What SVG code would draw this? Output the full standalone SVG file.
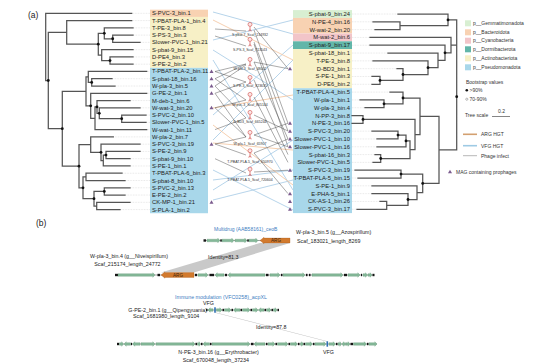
<svg xmlns="http://www.w3.org/2000/svg" xmlns:xlink="http://www.w3.org/1999/xlink" width="554" height="364" viewBox="0 0 554 364">
<style>
text{font-family:"Liberation Sans",Arial,sans-serif}
.lab{font-size:5.8px;fill:#222}
.tree{fill:none;stroke:#555;stroke-width:1.25;stroke-linecap:square}
.dot{fill:#111}
.lead{stroke:#cdcdcd;stroke-width:0.5;stroke-dasharray:0.8 0.8}
.ph{stroke:#444;stroke-width:0.45;fill:none}
.vfg{stroke:#a9cde6;stroke-width:1;fill:none;opacity:0.85}
.arg{stroke:#f3c7a2;stroke-width:1;fill:none;opacity:0.85}
.tri{fill:#7b5b8e}
.g{fill:#84b898;stroke:#5b9271;stroke-width:0.3}
.k{fill:#151515}
.plab{font-size:3.5px;fill:#333;text-anchor:middle}
.leg{font-size:5px;fill:#333}
.bl{font-size:5.3px;fill:#222}
</style>
<defs>
<g id="phage">
<circle cx="0" cy="-2.6" r="2" fill="#fbe6e6" stroke="#c9302c" stroke-width="0.5"/>
<line x1="0" y1="-0.6" x2="0" y2="2.6" stroke="#c9302c" stroke-width="0.6"/>
<path d="M-1.8,4 L0,2.6 L1.8,4 M-0.9,4.3 L0,2.6 L0.9,4.3" stroke="#c9302c" stroke-width="0.4" fill="none"/>
</g>
<path id="tri" d="M-2,1.5 L2,1.5 L0,-2 Z"/>
</defs>

<text x="28" y="18" font-size="8.5" fill="#222">(a)</text>
<text x="36" y="226" font-size="8.5" fill="#222">(b)</text>

<!-- label boxes -->
<g id="left-boxes">
<rect x="150" y="9.67" width="58" height="7.27" fill="#f8d2b2"/>
<rect x="150" y="16.94" width="58" height="50.89" fill="#f7f0c6"/>
<rect x="150" y="67.83" width="58" height="145.4" fill="#a8d7ea"/>
</g>
<g id="right-boxes">
<rect x="293" y="10.1" width="59" height="7.8" fill="#d8efd2"/>
<rect x="293" y="17.9" width="59" height="15.6" fill="#f8d2b2"/>
<rect x="293" y="33.5" width="59" height="7.8" fill="#f2c5c9"/>
<rect x="293" y="41.3" width="59" height="7.8" fill="#62b6a9"/>
<rect x="293" y="49.1" width="59" height="39.1" fill="#f7f0c6"/>
<rect x="293" y="88.2" width="59" height="124.9" fill="#a8d7ea"/>
</g>

<!-- leader dotted lines -->
<g id="leaders">
<path class="lead" d="M131.7,13.3H150M131.7,20.57H150M133,27.84H150M133,35.11H150M140,42.38H150M133,49.65H150M133,56.92H150M133,64.19H150M146.7,71.46H150M112,78.73H150M115,86H150M146.7,93.27H150M130,100.54H150M140,107.81H150M146,115.08H150M146,122.35H150M146.7,129.62H150M113.3,136.89H150M140,144.16H150M140,151.43H150M130,158.7H150M130,165.97H150M122,173.24H150M125,180.51H150M130,187.78H150M125,195.05H150M130,202.32H150M120,209.59H150"/>
<path class="lead" d="M352,14H398M352,21.81H373M352,29.62H375M352,37.43H370M352,45.24H370M352,53.05H388M352,60.86H373M352,68.67H397M352,76.48H372M352,84.29H372M352,92.1H390M352,99.91H360M352,107.72H365M352,131.15H372M352,138.96H377M352,146.77H377M352,154.58H375M352,162.39H373M352,170.2H355M352,178.01H358M352,185.82H372M352,193.63H372M352,201.44H380M352,209.25H357"/>
</g>

<!-- left tree -->
<g id="left-tree">
<path class="tree" d="M45.7,13.3V80.5M45.7,13.3H131.7M45.7,80.5H48.3
M48.3,32.4V128.7M48.3,32.4H66.7M48.3,128.7H62.3
M66.7,20.57V44.2M66.7,20.57H131.7M66.7,44.2H98.3
M98.3,33.3V55.1M98.3,33.3H104.3M98.3,55.1H101.7
M104.3,27.84V38.75M104.3,27.84H133M104.3,38.75H112.7
M112.7,35.11V42.38M112.7,35.11H133M112.7,42.38H140
M101.7,49.65V60.55M101.7,49.65H133M101.7,60.55H110
M110,56.92V64.19M110,56.92H133M110,64.19H133
M62.3,91.3V166.2M62.3,91.3H86M62.3,166.2H79
M86,76.9V105.8M86,76.9H88.3M86,105.8H90.7
M88.3,71.46V82.4M88.3,71.46H146.7M88.3,82.4H91.7
M91.7,78.73V86M91.7,78.73H112M91.7,86H115
M90.7,93.27V118.3M90.7,93.27H146.7M90.7,118.3H95
M95,106.9V129.62M95,106.9H97M95,129.62H146.7
M97,100.54V113.3M97,100.54H130M97,113.3H99.3
M99.3,107.81V118.7M99.3,107.81H140M99.3,118.7H121.7
M121.7,115.08V122.35M121.7,115.08H146M121.7,122.35H146
M79,144.6V187.8M79,144.6H90.7M79,187.8H83
M90.7,136.89V152.3M90.7,136.89H113.3M90.7,152.3H101
M101,144.16V160.5M101,144.16H140M101,160.5H103.3
M103.3,155.1V165.97M103.3,155.1H106M103.3,165.97H130
M106,151.43V158.7M106,151.43H140M106,158.7H130
M83,176.9V198.7M83,176.9H86M83,198.7H94
M86,173.24V180.51M86,173.24H122M86,180.51H125
M94,191.4V206M94,191.4H104.3M94,206H96.7
M104.3,187.78V195.05M104.3,187.78H130M104.3,195.05H125
M96.7,202.32V209.59M96.7,202.32H130M96.7,209.59H120"/>
<g class="dot">
<circle cx="48.3" cy="80.5" r="1.4"/><circle cx="62.3" cy="128.7" r="1.4"/><circle cx="98.3" cy="44.2" r="1.4"/><circle cx="104.3" cy="33.3" r="1.4"/><circle cx="112.7" cy="38.75" r="1.4"/><circle cx="110" cy="60.55" r="1.4"/><circle cx="91.7" cy="82.4" r="1.4"/><circle cx="90.7" cy="105.8" r="1.4"/><circle cx="97" cy="106.9" r="1.4"/><circle cx="99.3" cy="113.3" r="1.4"/><circle cx="121.7" cy="118.7" r="1.4"/><circle cx="79" cy="166.2" r="1.4"/><circle cx="101" cy="152.3" r="1.4"/><circle cx="106" cy="155.1" r="1.4"/><circle cx="83" cy="187.8" r="1.4"/><circle cx="94" cy="198.7" r="1.4"/><circle cx="104.3" cy="191.4" r="1.4"/>
</g>
</g>

<!-- right tree -->
<g id="right-tree">
<path class="tree" d="M456.7,19.9V149.9M448,19.9H456.7M451,45.1H456.7M439,149.9H456.7
M448,14V25.7M398,14H448M400,25.7H448
M400,21.81V29.62M373,21.81H400M375,29.62H400
M451,37.43V52.8M370,37.43H451M445,52.8H451
M445,45.24V60.4M370,45.24H445M438,60.4H445
M438,53.05V67.7M388,53.05H438M428,67.7H438
M428,60.86V74.5M373,60.86H428M403,74.5H428
M403,68.67V80.4M397,68.67H403M380,80.4H403
M380,76.48V84.29M372,76.48H380M372,84.29H380
M439,116.3V183.4M420,116.3H439M422.7,183.4H439
M420,98V134.6M403,98H420M415,134.6H420
M403,92.1V103.8M390,92.1H403M384,103.8H403
M384,99.91V107.72M360,99.91H384M365,107.72H384
M415,119.4V149.7M363,119.4H415M410,149.7H415
M363,115.53V123.34M352,115.53H363M352,123.34H363
M410,140.9V158.5M406,140.9H410M380.7,158.5H410
M406,135.1V146.77M398,135.1H406M377,146.77H406
M398,131.15V138.96M372,131.15H398M377,138.96H398
M380.7,154.58V162.39M375,154.58H380.7M373,162.39H380.7
M422.7,174.1V192.7M401,174.1H422.7M417,192.7H422.7
M401,170.2V178.01M355,170.2H401M358,178.01H401
M417,185.82V199.5M372,185.82H417M408,199.5H417
M408,193.63V205.3M372,193.63H408M386.7,205.3H408
M386.7,201.44V209.25M380,201.44H386.7M357,209.25H386.7"/>
<g class="dot">
<circle cx="448" cy="19.9" r="1.4"/><circle cx="445" cy="52.8" r="1.4"/><circle cx="428" cy="67.7" r="1.4"/><circle cx="403" cy="74.5" r="1.4"/><circle cx="380" cy="80.4" r="1.4"/><circle cx="403" cy="98" r="1.4"/><circle cx="384" cy="103.8" r="1.4"/><circle cx="363" cy="119.4" r="1.4"/><circle cx="398" cy="135.1" r="1.4"/><circle cx="406" cy="140.9" r="1.4"/><circle cx="380.7" cy="158.5" r="1.4"/><circle cx="401" cy="174.1" r="1.4"/><circle cx="422.7" cy="183.4" r="1.4"/><circle cx="408" cy="199.5" r="1.4"/><circle cx="456.7" cy="96.7" r="1.4"/>
</g>
</g>

<!-- left labels -->
<g id="left-labels" class="lab">
<text x="152" y="15.3">S-PVC-3_bin.1</text>
<text x="152" y="22.57">T-PBAT-PLA-1_bin.4</text>
<text x="152" y="29.84">T-PE-3_bin.8</text>
<text x="152" y="37.11">S-PS-3_bin.3</text>
<text x="152" y="44.38">Slower-PVC-1_bin.21</text>
<text x="152" y="51.65">S-pbat-9_bin.15</text>
<text x="152" y="58.92">D-PE4_bin.3</text>
<text x="152" y="66.19">S-PE-2_bin.2</text>
<text x="152" y="73.46">T-PBAT-PLA-2_bin.11</text>
<text x="152" y="80.73">S-pbat-18_bin.16</text>
<text x="152" y="88">W-pla-3_bin.5</text>
<text x="152" y="95.27">G-PE-2_bin.1</text>
<text x="152" y="102.54">M-deb-1_bin.6</text>
<text x="152" y="109.81">W-wat-3_bin.20</text>
<text x="152" y="117.08">S-PVC-2_bin.10</text>
<text x="152" y="124.35">Slower-PVC-1_bin.5</text>
<text x="152" y="131.62">W-wat-1_bin.11</text>
<text x="152" y="138.89">W-pla-2_bin.7</text>
<text x="152" y="146.16">S-PVC-3_bin.19</text>
<text x="152" y="153.43">S-PE-2_bin.9</text>
<text x="152" y="160.7">S-pbat-9_bin.10</text>
<text x="152" y="167.97">S-PE-1_bin.1</text>
<text x="152" y="175.24">T-PBAT-PLA-6_bin.3</text>
<text x="152" y="182.51">S-pbat-8_bin.10</text>
<text x="152" y="189.78">S-PVC-2_bin.13</text>
<text x="152" y="197.05">E-PE-2_bin.2</text>
<text x="152" y="204.32">CK-MP-1_bin.21</text>
<text x="152" y="211.59">S-PLA-1_bin.2</text>
</g>

<!-- right labels -->
<g id="right-labels" class="lab" text-anchor="end">
<text x="350" y="16">S-pbat-9_bin.24</text>
<text x="350" y="23.81">N-PE-4_bin.16</text>
<text x="350" y="31.62">W-wat-2_bin.20</text>
<text x="350" y="39.43">M-wat-2_bin.6</text>
<text x="350" y="47.24">S-pbat-9_bin.17</text>
<text x="350" y="55.05">S-pbat-18_bin.1</text>
<text x="350" y="62.86">T-PE-3_bin.8</text>
<text x="350" y="70.67">D-BD3_bin.1</text>
<text x="350" y="78.48">S-PE-1_bin.3</text>
<text x="350" y="86.29">D-PE6_bin.2</text>
<text x="350" y="94.1">T-PBAT-PLA-4_bin.5</text>
<text x="350" y="101.91">W-pla-1_bin.1</text>
<text x="350" y="109.72">W-pla-3_bin.4</text>
<text x="350" y="117.53">N-PP-3_bin.8</text>
<text x="350" y="125.34">N-PE-3_bin.16</text>
<text x="350" y="133.15">S-PVC-3_bin.20</text>
<text x="350" y="140.96">Slower-PVC-1_bin.10</text>
<text x="350" y="148.77">Slower-PVC-1_bin.16</text>
<text x="350" y="156.58">S-pbat-16_bin.3</text>
<text x="350" y="164.39">Slower-PVC-1_bin.5</text>
<text x="350" y="172.2">S-PVC-3_bin.19</text>
<text x="350" y="180.01">T-PBAT-PLA-5_bin.15</text>
<text x="350" y="187.82">S-PE-1_bin.9</text>
<text x="350" y="195.63">E-PHA-5_bin.1</text>
<text x="350" y="203.44">CK-AS-1_bin.26</text>
<text x="350" y="211.25">S-PVC-3_bin.17</text>
</g>

<!-- connectors -->
<g id="connectors">
<path class="vfg" d="M213,12L293,34M213,40L293,20M213,50L293,100M213,115L293,45M213,140L293,60M213,180L293,170M213,200L293,180M213,170L293,210M213,190L293,140M213,60L293,190"/>
<path class="arg" d="M213,20L293,60M213,108L293,95M213,143L293,150M213,125L293,185"/>
<path class="ph" d="M215,29L246,31M215,36L246,46M215,71.5L246,64M215,71.5L246,82M215,78.7L246,64M215,78.7L246,100M215,86L246,65M215,86L246,118M215,93.3L246,82M215,93.3L246,137M215,107.8L246,100M215,107.8L246,137M215,144L246,155M215,144L246,137M215,158.7L246,173M215,129.6L246,118
M254,27L288,68.7M254,30L288,123.3M254,42L288,131M254,44L288,146.8M254,62L288,139M254,62L288,68.7M254,80L288,154.6M254,97L288,162.4M254,115L288,131M254,135L288,123.3M254,135L288,146.8M254,153L288,139M254,172L288,170.2M254,153L288,193.6"/>
</g>

<!-- triangles: MAG containing prophages -->
<g id="prophage-marks" class="tri">
<use xlink:href="#tri" x="211.5" y="71.46"/><use xlink:href="#tri" x="211.5" y="78.73"/><use xlink:href="#tri" x="211.5" y="86"/><use xlink:href="#tri" x="211.5" y="93.27"/><use xlink:href="#tri" x="211.5" y="107.81"/><use xlink:href="#tri" x="211.5" y="144.16"/><use xlink:href="#tri" x="211.5" y="202.32"/>
<use xlink:href="#tri" x="290" y="68.67"/><use xlink:href="#tri" x="290" y="123.34"/><use xlink:href="#tri" x="290" y="131.15"/><use xlink:href="#tri" x="290" y="138.96"/><use xlink:href="#tri" x="290" y="146.77"/><use xlink:href="#tri" x="290" y="170.2"/><use xlink:href="#tri" x="290" y="193.63"/><use xlink:href="#tri" x="290" y="201.44"/><use xlink:href="#tri" x="290" y="209.25"/>
</g>

<!-- phages -->
<g id="phage1"><use xlink:href="#phage" x="250" y="27"/><text class="plab" x="250" y="35.5">S-pbat-7_Scaf_134932</text></g>
<g id="phage2"><use xlink:href="#phage" x="250" y="42"/><text class="plab" x="250" y="51">S-PS-3_Scaf_713543</text></g>
<g id="phage3"><use xlink:href="#phage" x="250" y="62"/><text class="plab" x="250" y="69.5">W-pla-3_Scaf_48002</text></g>
<g id="phage4"><use xlink:href="#phage" x="250" y="80"/><text class="plab" x="250" y="87.3">S-PE-3_Scaf_823635</text></g>
<g id="phage5"><use xlink:href="#phage" x="250" y="97"/><text class="plab" x="250" y="105.5">W-pvc-3_Scaf_865144</text></g>
<g id="phage6"><use xlink:href="#phage" x="250" y="115"/><text class="plab" x="250" y="123">D-BD3_Scaf_665244</text></g>
<g id="phage7"><use xlink:href="#phage" x="250" y="135"/><text class="plab" x="250" y="144.5">W-pla-1_Scaf_65907</text></g>
<g id="phage8"><use xlink:href="#phage" x="250" y="153.3"/><text class="plab" x="250" y="163">T-PBAT-PLA-5_Scaf_650970</text></g>
<g id="phage9"><use xlink:href="#phage" x="250" y="171.7"/><text class="plab" x="250" y="180.5">T-PBAT-PLA-5_Scaf_720604</text></g>

<!-- legend -->
<g id="legend">
<rect x="465" y="20.3" width="6" height="6" fill="#d8efd2"/>
<rect x="465" y="29.3" width="6" height="6" fill="#f8d2b2"/>
<rect x="465" y="37.7" width="6" height="6" fill="#f2c5c9"/>
<rect x="465" y="46.3" width="6" height="6" fill="#62b6a9"/>
<rect x="465" y="55.3" width="6" height="6" fill="#f7f0c6"/>
<rect x="465" y="64.3" width="6" height="6" fill="#a8d7ea"/>
<text class="leg" x="473" y="25">p__Gemmatimonadota</text>
<text class="leg" x="473" y="34">p__Bacteroidota</text>
<text class="leg" x="473" y="42.4">p__Cyanobacteria</text>
<text class="leg" x="473" y="51">p__Dormibacterota</text>
<text class="leg" x="473" y="60">p__Actinobacteriota</text>
<text class="leg" x="473" y="69">p__Pseudomonadota</text>
<text class="leg" x="466" y="83.5">Bootstrap values</text>
<circle cx="466.8" cy="90.2" r="1.3" fill="#111"/>
<text class="leg" x="469.5" y="92">&gt;90%</text>
<circle cx="466.8" cy="99.2" r="1.1" fill="#fff" stroke="#555" stroke-width="0.4"/>
<text class="leg" x="469.5" y="101">70-90%</text>
<text class="leg" x="465" y="117">Tree scale</text>
<text class="leg" x="498" y="113">0.2</text>
<path d="M492,116.5H510" stroke="#333" stroke-width="0.6"/>
<path d="M463,134.3H477" stroke="#d3a070" stroke-width="1.6"/>
<text class="leg" x="481" y="136">ARG HGT</text>
<path d="M463,145.7H477" stroke="#9ecae4" stroke-width="1.6"/>
<text class="leg" x="481" y="147.5">VFG HGT</text>
<path d="M463,155.7H477" stroke="#999" stroke-width="0.7"/>
<text class="leg" x="481" y="157.5">Phage infect</text>
<use xlink:href="#tri" x="450" y="171.7" class="tri"/>
<text class="leg" x="456" y="173.5">MAG containing prophages</text>
</g>

<!-- part b -->
<g id="identity">
<polygon points="260,243 290,243 194,272.6 161,272.6" fill="#c9c9c9"/>
<polygon points="214.2,312.4 215.8,312.4 328.3,341.5 326.7,341.5" fill="#bdbdbd"/>
<text class="bl" x="208" y="259">Identity=81.3</text>
<text class="bl" x="256" y="328.5">Identity=87.8</text>
</g>

<g id="track1" transform="translate(0,2.5)">
<path d="M204,238H290" stroke="#444" stroke-width="0.5"/>
<rect class="k" x="203.5" y="236.8" width="2.5" height="2.4"/>
<path class="g" d="M207,236.7H217.8V235.7L220,238L217.8,240.3V239.3H207Z"/>
<rect class="k" x="220.3" y="236.8" width="1.5" height="2.4"/>
<path class="g" d="M222,236.7H231.8V235.7L234,238L231.8,240.3V239.3H222Z"/>
<path class="g" d="M235,236.7H244.8V235.7L247,238L244.8,240.3V239.3H235Z"/>
<rect class="k" x="247.3" y="236.8" width="1.5" height="2.4"/>
<path class="g" d="M249,236.7H255.8V235.7L258,238L255.8,240.3V239.3H249Z"/>
<path d="M290,235.6H264V234.8L260,238L264,241.2V240.4H290Z" fill="#d27a2e" stroke="#a85a1a" stroke-width="0.3"/>
<text x="276" y="239.7" font-size="4.6" fill="#3a2410" text-anchor="middle">ARG</text>
<text x="214" y="228" font-size="5" fill="#3d7ebf">Multidrug (AAB58161)_ceoB</text>
<text class="bl" x="296" y="231.5">W-pla-3_bin.5 (g__Azospirillum)</text>
<text class="bl" x="297" y="240">Scaf_183021_length_8269</text>
</g>

<g id="track2">
<path d="M115,275H374" stroke="#444" stroke-width="0.5"/>
<g class="k">
<rect x="115" y="273.8" width="3" height="2.4"/><rect x="157.5" y="273.8" width="2.5" height="2.4"/><rect x="195" y="273.8" width="2" height="2.4"/><rect x="209.5" y="273.8" width="4.5" height="2.4"/><rect x="225" y="273.8" width="2" height="2.4"/><rect x="266" y="273.8" width="2.5" height="2.4"/><rect x="281" y="273.8" width="1.5" height="2.4"/><rect x="306" y="273.8" width="1.5" height="2.4"/><rect x="309" y="273.8" width="1.5" height="2.4"/><rect x="344" y="273.8" width="3" height="2.4"/><rect x="361" y="273.8" width="1" height="2.4"/><rect x="372.5" y="273.8" width="2" height="2.4"/>
</g>
<path class="g" d="M118,273.7H152.8V272.7L155,275L152.8,277.3V276.3H118Z"/>
<path d="M194,272.6H165V271.8L161,275L165,278.2V277.4H194Z" fill="#d27a2e" stroke="#a85a1a" stroke-width="0.3"/>
<text x="178" y="276.7" font-size="4.6" fill="#3a2410" text-anchor="middle">ARG</text>
<path class="g" d="M198,273.7H205.8V272.7L208,275L205.8,277.3V276.3H198Z"/>
<path class="g" d="M224,273.7H217.2V272.7L215,275L217.2,277.3V276.3H224Z"/>
<path class="g" d="M265,273.7H230.2V272.7L228,275L230.2,277.3V276.3H265Z"/>
<path class="g" d="M270,273.7H277.8V272.7L280,275L277.8,277.3V276.3H270Z"/>
<path class="g" d="M283,273.7H302.8V272.7L305,275L302.8,277.3V276.3H283Z"/>
<path class="g" d="M312,273.7H340.8V272.7L343,275L340.8,277.3V276.3H312Z"/>
<path class="g" d="M348,273.7H357.8V272.7L360,275L357.8,277.3V276.3H348Z"/>
<path class="g" d="M363,273.7H365.5V272.7L367.5,275L365.5,277.3V276.3H363Z"/>
<path class="g" d="M368,273.7H370.2V272.7L372,275L370.2,277.3V276.3H368Z"/>
<text class="bl" x="90" y="257.5" font-size="5">W-pla-3_bin.4 (g__Niveispirillum)</text>
<text class="bl" x="94.3" y="266">Scaf_215174_length_24772</text>
</g>

<g id="track3">
<path d="M206,310H279" stroke="#444" stroke-width="0.5"/>
<g class="k">
<rect x="206" y="308.8" width="1.5" height="2.4"/><rect x="222.5" y="308.8" width="1.5" height="2.4"/><rect x="231.5" y="308.8" width="1.5" height="2.4"/><rect x="240.5" y="308.8" width="1.5" height="2.4"/><rect x="250.5" y="308.8" width="1.5" height="2.4"/><rect x="264.5" y="308.8" width="1.5" height="2.4"/><rect x="271.5" y="308.8" width="1.5" height="2.4"/><rect x="277.5" y="308.8" width="1.5" height="2.4"/>
</g>
<path class="g" d="M213,308.7H210.2V307.7L208,310L210.2,312.3V311.3H213Z"/>
<rect x="214.2" y="307.3" width="1.6" height="5.4" fill="#2c6fb5"/>
<path class="g" d="M216.5,308.7H219.8V307.7L222,310L219.8,312.3V311.3H216.5Z"/>
<path class="g" d="M224.5,308.7H228.8V307.7L231,310L228.8,312.3V311.3H224.5Z"/>
<path class="g" d="M240,308.7H235.7V307.7L233.5,310L235.7,312.3V311.3H240Z"/>
<path class="g" d="M242.5,308.7H247.8V307.7L250,310L247.8,312.3V311.3H242.5Z"/>
<path class="g" d="M252.5,308.7H255.8V307.7L258,310L255.8,312.3V311.3H252.5Z"/>
<path class="g" d="M264,308.7H260.7V307.7L258.5,310L260.7,312.3V311.3H264Z"/>
<path class="g" d="M266.5,308.7H269V307.7L271,310L269,312.3V311.3H266.5Z"/>
<path class="g" d="M273.5,308.7H275.3V307.7L277,310L275.3,312.3V311.3H273.5Z"/>
<text x="175" y="298.5" font-size="5.3" fill="#3d7ebf">Immune modulation (VFC0258)_acpXL</text>
<text class="bl" x="203" y="304.7">VFG</text>
<text class="bl" x="128.3" y="311.8">G-PE-2_bin.1 (g__Qipengyuania)</text>
<text class="bl" x="133" y="318.2">Scaf_1681980_length_9104</text>
</g>

<g id="track4">
<path d="M117,344H377" stroke="#444" stroke-width="0.5"/>
<g class="k">
<rect x="117" y="342.8" width="2" height="2.4"/><rect x="131" y="342.8" width="1" height="2.4"/><rect x="195.5" y="342.8" width="1.5" height="2.4"/><rect x="201" y="342.8" width="1.5" height="2.4"/><rect x="210" y="342.8" width="1.5" height="2.4"/><rect x="251" y="342.8" width="2.5" height="2.4"/><rect x="266" y="342.8" width="1.5" height="2.4"/><rect x="275.5" y="342.8" width="1.5" height="2.4"/><rect x="288.5" y="342.8" width="1.5" height="2.4"/><rect x="298" y="342.8" width="1.5" height="2.4"/><rect x="303.5" y="342.8" width="1.5" height="2.4"/><rect x="313" y="342.8" width="1.5" height="2.4"/><rect x="336" y="342.8" width="1.5" height="2.4"/><rect x="350.5" y="342.8" width="2.5" height="2.4"/><rect x="367" y="342.8" width="1.5" height="2.4"/>
</g>
<path class="g" d="M119.5,342.7H121.7V341.7L123.5,344L121.7,346.3V345.3H119.5Z"/>
<path class="g" d="M130.5,342.7H126.2V341.7L124,344L126.2,346.3V345.3H130.5Z"/>
<path class="g" d="M140,342.7H134.7V341.7L132.5,344L134.7,346.3V345.3H140Z"/>
<path class="g" d="M141,342.7H152.8V341.7L155,344L152.8,346.3V345.3H141Z"/>
<path class="g" d="M156,342.7H192.8V341.7L195,344L192.8,346.3V345.3H156Z"/>
<path class="g" d="M197.5,342.7H199.1V341.7L200.5,344L199.1,346.3V345.3H197.5Z"/>
<path class="g" d="M209.5,342.7H205.2V341.7L203,344L205.2,346.3V345.3H209.5Z"/>
<path class="g" d="M212,342.7H247.8V341.7L250,344L247.8,346.3V345.3H212Z"/>
<path class="g" d="M265,342.7H256.2V341.7L254,344L256.2,346.3V345.3H265Z"/>
<path class="g" d="M268,342.7H272.8V341.7L275,344L272.8,346.3V345.3H268Z"/>
<path class="g" d="M277.5,342.7H285.8V341.7L288,344L285.8,346.3V345.3H277.5Z"/>
<path class="g" d="M290.5,342.7H295.3V341.7L297.5,344L295.3,346.3V345.3H290.5Z"/>
<path class="g" d="M303,342.7H301.4V341.7L300,344L301.4,346.3V345.3H303Z"/>
<path class="g" d="M305.5,342.7H310.3V341.7L312.5,344L310.3,346.3V345.3H305.5Z"/>
<path class="g" d="M315,342.7H323.8V341.7L326,344L323.8,346.3V345.3H315Z"/>
<rect x="326.5" y="341.3" width="1.6" height="5.4" fill="#2c6fb5"/>
<path class="g" d="M329,342.7H333.3V341.7L335.5,344L333.3,346.3V345.3H329Z"/>
<path class="g" d="M338,342.7H339.9V341.7L341.5,344L339.9,346.3V345.3H338Z"/>
<path class="g" d="M345.5,342.7H343.6V341.7L342,344L343.6,346.3V345.3H345.5Z"/>
<path class="g" d="M346,342.7H348.2V341.7L350,344L348.2,346.3V345.3H346Z"/>
<path class="g" d="M353.5,342.7H364.3V341.7L366.5,344L364.3,346.3V345.3H353.5Z"/>
<path class="g" d="M369,342.7H374.8V341.7L377,344L374.8,346.3V345.3H369Z"/>
<text class="bl" x="323" y="353.5">VFG</text>
<text class="bl" x="178.3" y="354">N-PE-3_bin.16 (g__Erythrobacter)</text>
<text class="bl" x="182.7" y="362">Scaf_670048_length_37234</text>
</g>
</svg>
